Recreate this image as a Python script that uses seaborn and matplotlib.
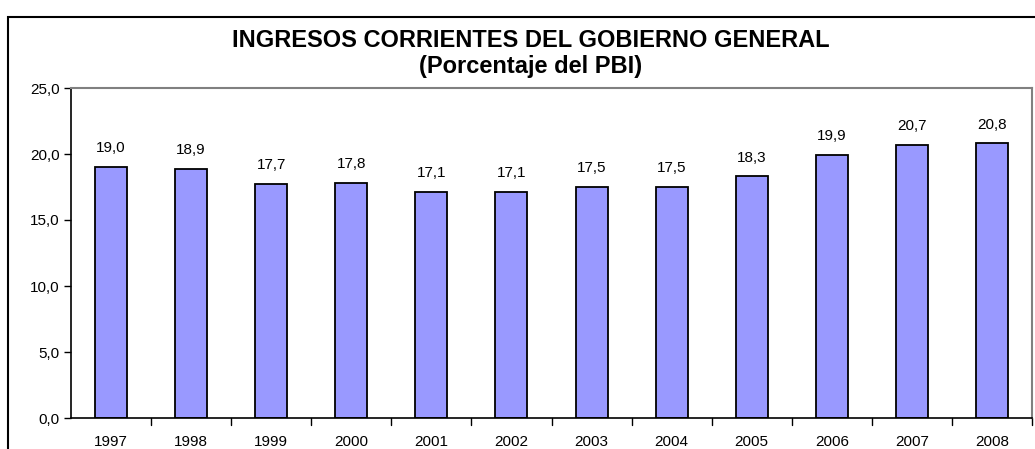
import matplotlib
matplotlib.use("Agg")
import matplotlib.pyplot as plt
import seaborn as sns
import pandas as pd
from matplotlib.patches import Rectangle

# Data
years = ["1997", "1998", "1999", "2000", "2001", "2002",
         "2003", "2004", "2005", "2006", "2007", "2008"]
ingresos = [19.0, 18.9, 17.7, 17.8, 17.1, 17.1, 17.5, 17.5, 18.3, 19.9, 20.7, 20.8]
yticks = [0, 5, 10, 15, 20, 25]

df = pd.DataFrame({"anio": years, "valor": ingresos})

sns.set_style("white")
plt.rcParams["font.family"] = ["Liberation Sans", "DejaVu Sans"]
plt.rcParams["text.color"] = "black"
plt.rcParams["xtick.color"] = "black"
plt.rcParams["ytick.color"] = "black"

fig = plt.figure(figsize=(10.35, 4.49), dpi=100)
ax = fig.add_axes([71 / 1035, 1 - 418 / 449, (1032 - 71) / 1035, (418 - 88) / 449])

sns.barplot(data=df, x="anio", y="valor", color="#9999FF", width=0.4,
            edgecolor="black", linewidth=1.3, saturation=1, ax=ax)

# value labels
for i, v in enumerate(ingresos):
    ax.text(i, v + 0.9, f"{v:.1f}".replace(".", ","), ha="center", va="bottom", fontsize=11)

ax.set_ylim(0, 25)
ax.set_xlim(-0.5, len(years) - 0.5)
ax.set_yticks(yticks)
ax.set_yticklabels([f"{t:.1f}".replace(".", ",") for t in yticks], fontsize=11)
ax.tick_params(axis="x", labelsize=11, length=0, pad=12)
ax.tick_params(axis="y", left=True, length=5, width=1, pad=3)
ax.set_xlabel("")
ax.set_ylabel("")

# x ticks between categories
for b in range(1, len(years) + 1):
    ax.plot([b - 0.5, b - 0.5], [0, -0.5], color="black", lw=1, clip_on=False)

for side in ["left", "bottom"]:
    ax.spines[side].set_color("black")
    ax.spines[side].set_linewidth(1.2)
for side in ["top", "right"]:
    ax.spines[side].set_color("#808080")
    ax.spines[side].set_linewidth(1.5)

fig.text(0.513, 1 - 53.5 / 449, "INGRESOS CORRIENTES DEL GOBIERNO GENERAL\n(Porcentaje del PBI)",
         ha="center", va="center", fontsize=17, fontweight="bold", linespacing=1.15)

# outer chart border
fig.patches.append(Rectangle((8 / 1035, -0.05), 1.2, 1 - 17 / 449 + 0.05,
                             transform=fig.transFigure, fill=False,
                             edgecolor="black", linewidth=1.5))

fig.savefig("out.png", dpi=100)
